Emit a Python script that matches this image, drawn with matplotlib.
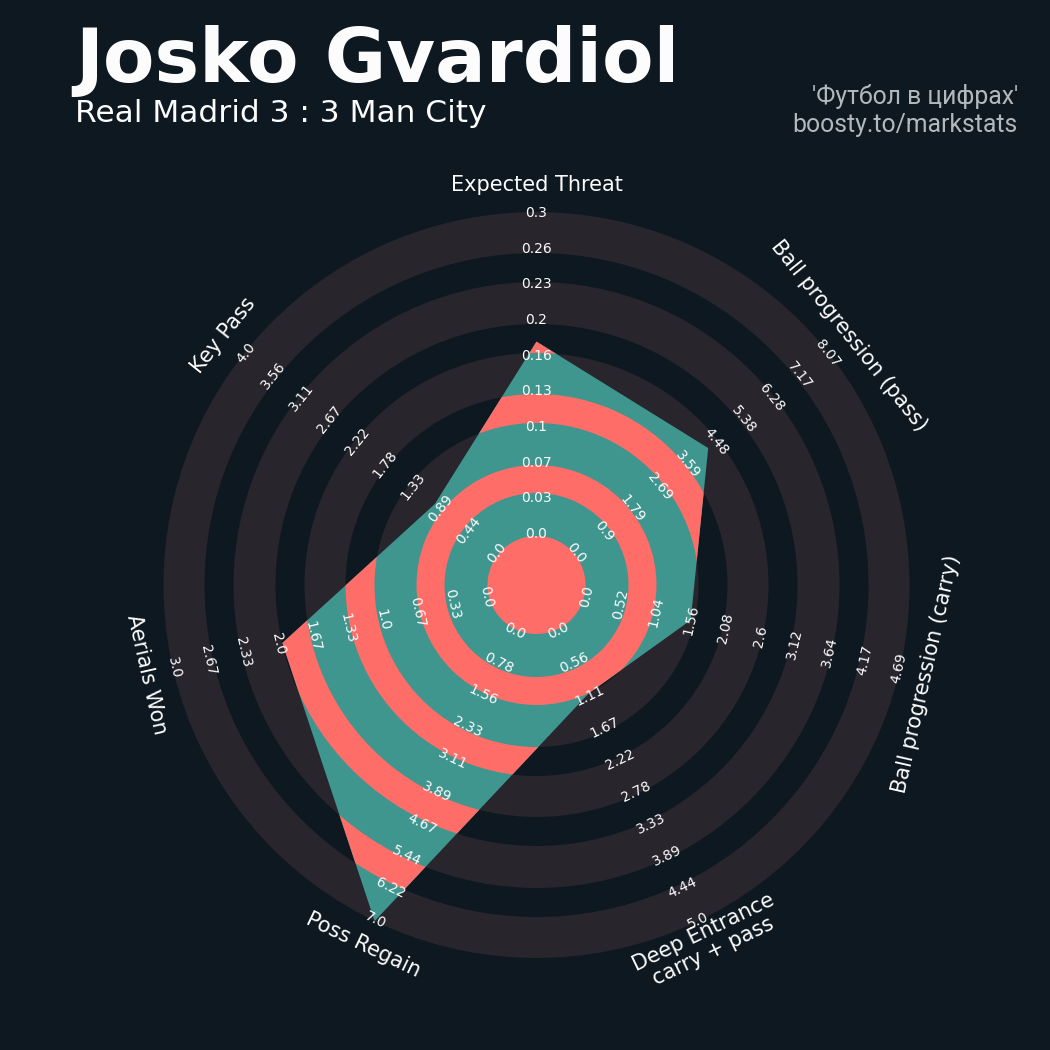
import numpy as np
import matplotlib.pyplot as plt
from matplotlib.patches import Wedge, Polygon, Circle

# radar data
params = ['Expected Threat', 'Ball progression (pass)', 'Ball progression (carry)',
          'Deep Entrance\ncarry + pass', 'Poss Regain', 'Aerials Won', 'Key Pass']
values = [0.18, 4.25, 1.58, 1.1, 7.0, 1.96, 1.0]

# ring labels for every parameter (min .. max)
ring_labels = [
    ['0.0', '0.03', '0.07', '0.1', '0.13', '0.16', '0.2', '0.23', '0.26', '0.3'],
    ['0.0', '0.9', '1.79', '2.69', '3.59', '4.48', '5.38', '6.28', '7.17', '8.07'],
    ['0.0', '0.52', '1.04', '1.56', '2.08', '2.6', '3.12', '3.64', '4.17', '4.69'],
    ['0.0', '0.56', '1.11', '1.67', '2.22', '2.78', '3.33', '3.89', '4.44', '5.0'],
    ['0.0', '0.78', '1.56', '2.33', '3.11', '3.89', '4.67', '5.44', '6.22', '7.0'],
    ['0.0', '0.33', '0.67', '1.0', '1.33', '1.67', '2.0', '2.33', '2.67', '3.0'],
    ['0.0', '0.44', '0.89', '1.33', '1.78', '2.22', '2.67', '3.11', '3.56', '4.0'],
]
low = [float(l[0]) for l in ring_labels]
high = [float(l[-1]) for l in ring_labels]

BG = '#0e1821'
RING_BG = '#28252c'
TEAL = '#3e968f'
SALMON = '#fe6d68'

fig = plt.figure(figsize=(10.5, 10.5), dpi=100, facecolor=BG)
ax = fig.add_axes([0, 0, 1, 1])
ax.set_xlim(0, 1050)
ax.set_ylim(0, 1050)
ax.set_aspect('equal')
ax.axis('off')

cx, cy = 536.5, 465
r0, r1 = 49, 373
# ring edges: center circle, then band/gap alternation
edges = [49, 92, 120, 162, 191, 232, 261, 303, 332, 373]

# background rings
for i in range(0, len(edges) - 1, 2):
    ax.add_patch(Wedge((cx, cy), edges[i + 1], 0, 360, width=edges[i + 1] - edges[i],
                       facecolor=RING_BG, edgecolor='none', zorder=1))

n = len(params)
theta = np.deg2rad(90 - np.arange(n) * 360 / n)
frac = (np.array(values) - np.array(low)) / (np.array(high) - np.array(low))
rv = r0 + frac * (r1 - r0)
verts = np.column_stack([cx + rv * np.cos(theta), cy + rv * np.sin(theta)])

poly = Polygon(verts, closed=True, facecolor=TEAL, edgecolor='none', zorder=2)
ax.add_patch(poly)

# salmon rings inside the radar
c = Circle((cx, cy), edges[0], facecolor=SALMON, edgecolor='none', zorder=3)
ax.add_patch(c)
c.set_clip_path(poly)
for i in range(1, len(edges) - 1, 2):
    w = Wedge((cx, cy), edges[i + 1], 0, 360, width=edges[i + 1] - edges[i],
              facecolor=SALMON, edgecolor='none', zorder=3)
    ax.add_patch(w)
    w.set_clip_path(poly)


def text_rot(t):
    rot = np.rad2deg(t) - 90
    while rot <= -90:
        rot += 180
    while rot > 90:
        rot -= 180
    return rot


label_r = np.linspace(r0 + 2, r1 - 1, 10)
for t, labs, name in zip(theta, ring_labels, params):
    rot = text_rot(t)
    for r, s in zip(label_r, labs):
        ax.text(cx + r * np.cos(t), cy + r * np.sin(t), s, rotation=rot,
                rotation_mode='anchor', ha='center', va='center',
                fontsize=10, color='#fcfcfc', zorder=5)
    rp = 400 if '\n' not in name else 396
    ax.text(cx + rp * np.cos(t), cy + rp * np.sin(t), name, rotation=rot,
            rotation_mode='anchor', ha='center', va='center', multialignment='center',
            fontsize=15, color='#fcfcfc', zorder=5, linespacing=1.1)

# titles
fig.text(75 / 1050, 1 - 82 / 1050, 'Josko Gvardiol', fontsize=54, fontweight='bold',
         color='#fcfcfc', ha='left', va='baseline')
fig.text(75 / 1050, 1 - 122 / 1050, 'Real Madrid 3 : 3 Man City', fontsize=22.5,
         color='#fcfcfc', ha='left', va='baseline')
fig.text(1018 / 1050, 1 - 104 / 1050, "'Футбол в цифрах'", fontsize=17.8, family='Roboto',
         color='#b3b8bd', ha='right', va='baseline')
fig.text(1018 / 1050, 1 - 132 / 1050, 'boosty.to/markstats', fontsize=17.8, family='Roboto',
         color='#b3b8bd', ha='right', va='baseline')

fig.savefig('out.png', dpi=100, facecolor=BG)
